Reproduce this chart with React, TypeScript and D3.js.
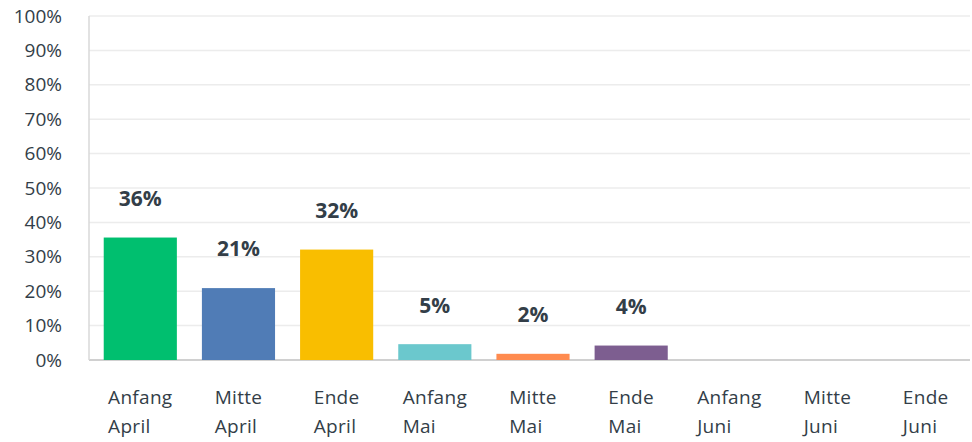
import React from "react";
import * as d3 from "d3";

const categories = [
  ["Anfang", "April"],
  ["Mitte", "April"],
  ["Ende", "April"],
  ["Anfang", "Mai"],
  ["Mitte", "Mai"],
  ["Ende", "Mai"],
  ["Anfang", "Juni"],
  ["Mitte", "Juni"],
  ["Ende", "Juni"],
];
const values = [35.6, 20.9, 32.1, 4.6, 1.8, 4.2, 0, 0, 0];
const valueLabels = ["36%", "21%", "32%", "5%", "2%", "4%", "", "", ""];
const colors = ["#00bf6f", "#507cb6", "#f9be00", "#6bc8cd", "#ff8b4f", "#7d5e90", "#00bf6f", "#507cb6", "#f9be00"];
const yTicks = [0, 10, 20, 30, 40, 50, 60, 70, 80, 90, 100];

const W = 972;
const H = 442;
const FONT = "'Open Sans', 'Noto Sans', sans-serif";
const TEXT = "#333e48";
const CAT_SIZE = 19;

function measure(s: string, size: number): number {
  const c = document.createElement("canvas").getContext("2d");
  if (!c) return s.length * size * 0.55;
  c.font = `${size}px 'Open Sans'`;
  return c.measureText(s).width + s.length * 0.3;
}

export default function App() {
  const x = d3
    .scaleBand<number>()
    .domain(d3.range(categories.length))
    .range([89, 977])
    .paddingInner(0.255)
    .paddingOuter(0.15);
  const y = d3.scaleLinear().domain([0, 100]).range([360, 16]);

  return (
    <svg
      width={W}
      height={H}
      style={{ position: "absolute", left: 0, top: 0, background: "#fff" }}
      fontFamily={FONT}
    >
      {yTicks.map((t) => (
        <g key={t}>
          <line
            x1={89}
            x2={970}
            y1={y(t)}
            y2={y(t)}
            stroke={t === 0 ? "#d0d0d0" : "#ececec"}
            strokeWidth={t === 0 ? 2 : 1.5}
          />
          <text
            x={62}
            y={y(t)}
            dy="0.35em"
            textAnchor="end"
            fontSize={19}
            fill={TEXT}
          >
            {t}%
          </text>
        </g>
      ))}
      <line x1={89} x2={89} y1={y(100)} y2={y(0)} stroke="#d8d8d8" strokeWidth={1.5} />
      {values.map((v, i) => {
        const bx = x(i)!;
        const bw = x.bandwidth();
        return (
          <g key={i}>
            {v > 0 && (
              <rect x={bx} y={y(v)} width={bw} height={y(0) - y(v)} fill={colors[i]} />
            )}
            {valueLabels[i] && (
              <text
                x={bx + bw / 2}
                y={y(v) - 39}
                dy="0.35em"
                textAnchor="middle"
                fontSize={21}
                fontWeight={700}
                fill={TEXT}
              >
                {valueLabels[i]}
              </text>
            )}
          </g>
        );
      })}
      {categories.map((lines, i) => {
        const cx = x(i)! + x.bandwidth() / 2;
        const w = Math.max(...lines.map((l) => measure(l, CAT_SIZE)));
        const left = cx - w / 2;
        return (
          <text key={i} fontSize={CAT_SIZE} fill={TEXT} letterSpacing={0.3}>
            {lines.map((l, j) => (
              <tspan key={j} x={left} y={404 + j * 29}>
                {l}
              </tspan>
            ))}
          </text>
        );
      })}
    </svg>
  );
}
